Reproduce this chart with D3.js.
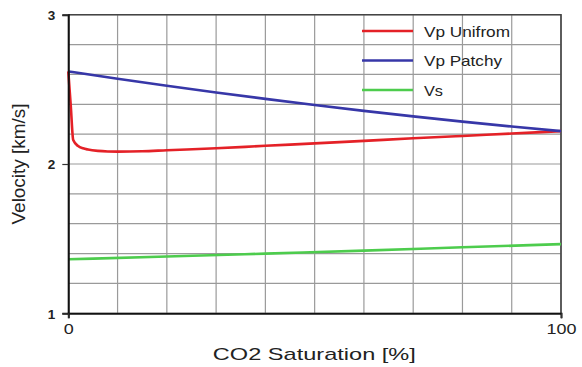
<!DOCTYPE html>
<html>
<head>
<meta charset="utf-8">
<script src="https://cdn.jsdelivr.net/npm/d3@7"></script>
<style>
  html, body { margin: 0; padding: 0; background: #fff; }
  svg { display: block; font-family: "Liberation Sans", Arial, Helvetica, sans-serif; }
</style>
</head>
<body>
<svg id="chart" width="582" height="367"></svg>
<script>
// CO2 saturation (%) and the velocities (km/s) at each sample
const saturation   = [0, 0.5, 1, 2, 3, 4, 6, 8, 10, 15, 20, 30, 40, 50, 60, 70, 80, 90, 100];
const vpUniform    = [2.62, 2.39, 2.16, 2.12, 2.105, 2.097, 2.088, 2.084, 2.083, 2.085, 2.092, 2.105, 2.122, 2.138, 2.155, 2.172, 2.188, 2.204, 2.22];
const satPatchy    = [0, 10, 20, 30, 40, 50, 60, 70, 80, 90, 100];
const vpPatchy     = [2.62, 2.571, 2.524, 2.479, 2.436, 2.395, 2.356, 2.319, 2.284, 2.251, 2.22];
const satVs        = [0, 20, 40, 60, 80, 100];
const vs           = [1.362, 1.38, 1.40, 1.42, 1.442, 1.463];

const seriesNames  = ["Vp Unifrom", "Vp Patchy", "Vs"];
const seriesColors = ["#e42127", "#3737a8", "#4dcc4d"];

const xTickLabels  = [0, 100];
const yTickLabels  = [1, 2, 3];
const xGrid        = d3.range(0, 101, 10);
const yGrid        = d3.range(1, 3.001, 0.2);

const svg = d3.select("#chart");
const plotL = 68.3, plotR = 561, plotT = 14.7, plotB = 313.3;

const x = d3.scaleLinear().domain([0, 100]).range([plotL, plotR]);
const y = d3.scaleLinear().domain([1, 3]).range([plotB, plotT]);

// grid
const grid = svg.append("g").attr("stroke", "#9a9a9a").attr("stroke-width", 1.2);
grid.selectAll("line.v").data(xGrid).join("line")
  .attr("x1", d => x(d)).attr("x2", d => x(d))
  .attr("y1", plotT).attr("y2", plotB);
grid.selectAll("line.h").data(yGrid).join("line")
  .attr("y1", d => y(d)).attr("y2", d => y(d))
  .attr("x1", plotL).attr("x2", plotR);

// frame: top and right
svg.append("path")
  .attr("d", `M${plotL},${plotT}H${plotR}V${plotB}`)
  .attr("fill", "none").attr("stroke", "#444").attr("stroke-width", 1.6);

// series
const line = d3.line().curve(d3.curveMonotoneX).x(d => x(d[0])).y(d => y(d[1]));
const series = [
  d3.zip(saturation, vpUniform),
  d3.zip(satPatchy, vpPatchy),
  d3.zip(satVs, vs)
];
// draw order: green, red, blue on top
[2, 0, 1].forEach(i => {
  svg.append("path")
    .datum(series[i])
    .attr("fill", "none")
    .attr("stroke", seriesColors[i])
    .attr("stroke-width", 2.6)
    .attr("stroke-linejoin", "round")
    .attr("d", line);
});

// axes
const yAxis = d3.axisLeft(y).tickValues(yTickLabels).tickSize(6).tickFormat(d3.format("d"));
const gy = svg.append("g").attr("transform", `translate(${plotL},0)`).call(yAxis);
gy.select(".domain").attr("stroke", "#111").attr("stroke-width", 2);
gy.selectAll(".tick line").attr("stroke", "#333").attr("stroke-width", 1.2);
gy.selectAll(".tick text")
  .attr("x", -13).attr("dy", "0.36em")
  .attr("font-size", 13.5).attr("font-weight", "bold").attr("fill", "#222")
  .attr("font-family", "Liberation Sans, Arial, sans-serif");

const xAxis = d3.axisBottom(x).tickValues(xTickLabels).tickSize(5).tickFormat(d3.format("d"));
const gx = svg.append("g").attr("transform", `translate(0,${plotB})`).call(xAxis);
gx.select(".domain").attr("stroke", "#111").attr("stroke-width", 2);
gx.selectAll(".tick line").attr("stroke", "#333").attr("stroke-width", 1.2);
gx.selectAll(".tick text")
  .attr("y", 21).attr("dy", 0)
  .attr("font-size", 15.5).attr("fill", "#222")
  .attr("font-family", "Liberation Sans, Arial, sans-serif")
  .attr("textLength", d => d === 100 ? 30 : 10)
  .attr("lengthAdjust", "spacingAndGlyphs");

// axis titles
svg.append("text")
  .attr("x", (212.7 + 416) / 2).attr("y", 360)
  .attr("text-anchor", "middle")
  .attr("font-size", 17).attr("fill", "#222")
  .attr("textLength", 203).attr("lengthAdjust", "spacingAndGlyphs")
  .text("CO2 Saturation [%]");

svg.append("text")
  .attr("transform", "translate(25,164) rotate(-90)")
  .attr("text-anchor", "middle")
  .attr("font-size", 17.5).attr("fill", "#222")
  .attr("textLength", 121).attr("lengthAdjust", "spacingAndGlyphs")
  .text("Velocity [km/s]");

// legend
const legendY = [31, 60.5, 90];
const legendW = [86, 78, 19];
const lg = svg.append("g");
seriesNames.forEach((name, i) => {
  lg.append("line")
    .attr("x1", 362).attr("x2", 413)
    .attr("y1", legendY[i]).attr("y2", legendY[i])
    .attr("stroke", seriesColors[i]).attr("stroke-width", 2.6);
  lg.append("text")
    .attr("x", 424).attr("y", legendY[i] + 5.5)
    .attr("font-size", 15).attr("fill", "#222")
    .attr("textLength", legendW[i]).attr("lengthAdjust", "spacingAndGlyphs")
    .text(name);
});
</script>
</body>
</html>
